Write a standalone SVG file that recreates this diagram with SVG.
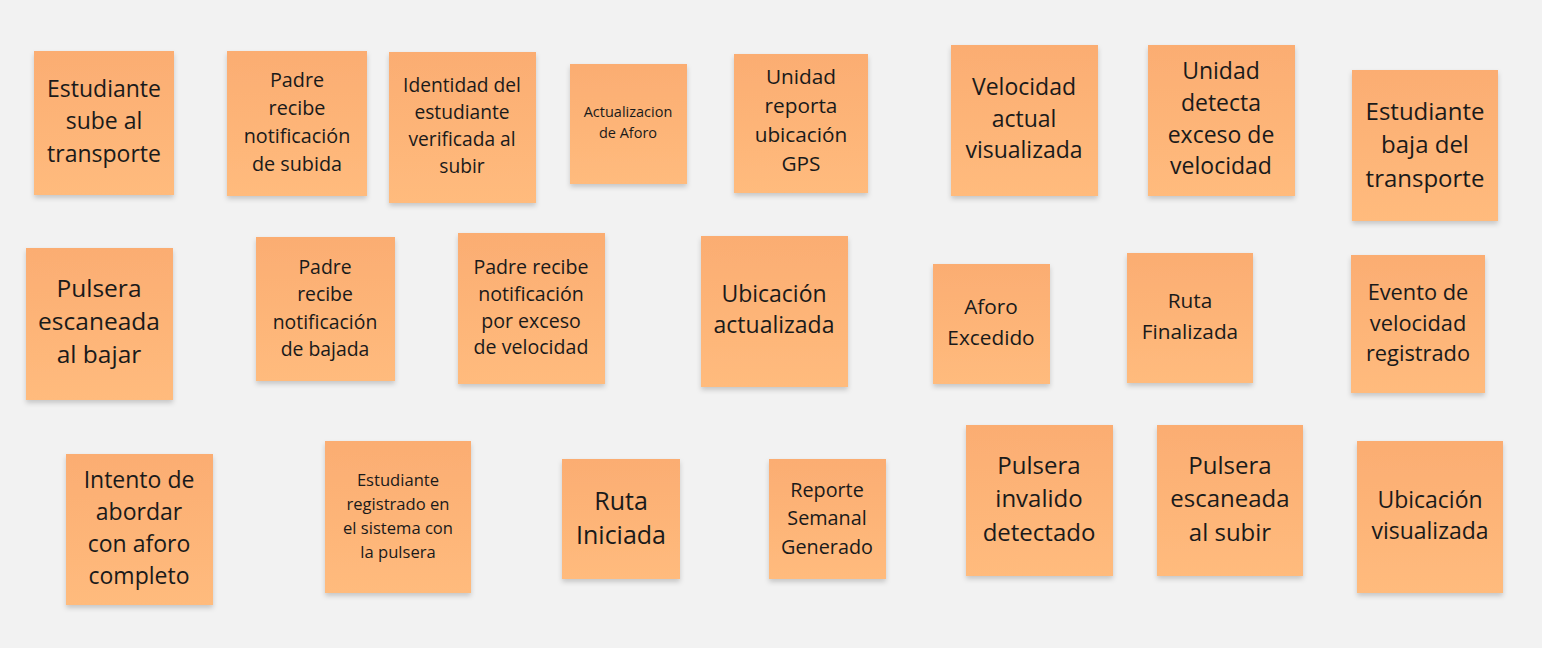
<svg xmlns="http://www.w3.org/2000/svg" width="1542" height="648" viewBox="0 0 1542 648">
<defs>
<linearGradient id="g" x1="0" y1="0" x2="0" y2="1">
<stop offset="0" stop-color="#fbad72"/>
<stop offset="1" stop-color="#ffbb7d"/>
</linearGradient>
<filter id="sh" x="-10%" y="-10%" width="120%" height="125%">
<feDropShadow dx="0" dy="3" stdDeviation="2.5" flood-color="#000" flood-opacity="0.18"/>
</filter>
<style>
.n{fill:url(#g);filter:url(#sh)}
.t{font-family:"Open Sans","Noto Sans",sans-serif;text-anchor:middle;fill:#1a1a1a}
</style>
</defs>
<rect width="1542" height="648" fill="#f2f2f2"/>
<g id="connectors"/>
<g id="n1"><rect class="n" x="34" y="51" width="140" height="144"/><text class="t" font-size="23"><tspan x="104" y="97">Estudiante</tspan><tspan x="104" y="129">sube al</tspan><tspan x="104" y="162">transporte</tspan></text></g>
<g id="n2"><rect class="n" x="227" y="51" width="140" height="145"/><text class="t" font-size="19.8"><tspan x="297" y="87">Padre</tspan><tspan x="297" y="115">recibe</tspan><tspan x="297" y="143">notificación</tspan><tspan x="297" y="171">de subida</tspan></text></g>
<g id="n3"><rect class="n" x="389" y="52" width="147" height="151"/><text class="t" font-size="19.2"><tspan x="462" y="92">Identidad del</tspan><tspan x="462" y="119">estudiante</tspan><tspan x="462" y="146">verificada al</tspan><tspan x="462" y="173">subir</tspan></text></g>
<g id="n4"><rect class="n" x="570" y="64" width="117" height="120"/><text class="t" font-size="14.5"><tspan x="628" y="117">Actualizacion</tspan><tspan x="628" y="138">de Aforo</tspan></text></g>
<g id="n5"><rect class="n" x="734" y="54" width="134" height="139"/><text class="t" font-size="20.8"><tspan x="801" y="84">Unidad</tspan><tspan x="801" y="113">reporta</tspan><tspan x="801" y="142">ubicación</tspan><tspan x="801" y="171">GPS</tspan></text></g>
<g id="n6"><rect class="n" x="951" y="45" width="147" height="151"/><text class="t" font-size="23"><tspan x="1024" y="95">Velocidad</tspan><tspan x="1024" y="127">actual</tspan><tspan x="1024" y="158">visualizada</tspan></text></g>
<g id="n7"><rect class="n" x="1148" y="45" width="147" height="151"/><text class="t" font-size="23"><tspan x="1221" y="79">Unidad</tspan><tspan x="1221" y="111">detecta</tspan><tspan x="1221" y="143">exceso de</tspan><tspan x="1221" y="174">velocidad</tspan></text></g>
<g id="n8"><rect class="n" x="1352" y="70" width="146" height="151"/><text class="t" font-size="24"><tspan x="1425" y="120">Estudiante</tspan><tspan x="1425" y="153">baja del</tspan><tspan x="1425" y="187">transporte</tspan></text></g>
<g id="n9"><rect class="n" x="26" y="248" width="147" height="152"/><text class="t" font-size="24.5"><tspan x="99" y="297">Pulsera</tspan><tspan x="99" y="330">escaneada</tspan><tspan x="99" y="363">al bajar</tspan></text></g>
<g id="n10"><rect class="n" x="256" y="237" width="139" height="144"/><text class="t" font-size="19.4"><tspan x="325" y="274">Padre</tspan><tspan x="325" y="301">recibe</tspan><tspan x="325" y="329">notificación</tspan><tspan x="325" y="356">de bajada</tspan></text></g>
<g id="n11"><rect class="n" x="458" y="233" width="147" height="151"/><text class="t" font-size="19.6"><tspan x="531" y="274">Padre recibe</tspan><tspan x="531" y="301">notificación</tspan><tspan x="531" y="328">por exceso</tspan><tspan x="531" y="354">de velocidad</tspan></text></g>
<g id="n12"><rect class="n" x="701" y="236" width="147" height="151"/><text class="t" font-size="23"><tspan x="774" y="302">Ubicación</tspan><tspan x="774" y="333">actualizada</tspan></text></g>
<g id="n13"><rect class="n" x="933" y="264" width="117" height="120"/><text class="t" font-size="20.8"><tspan x="991" y="314">Aforo</tspan><tspan x="991" y="345">Excedido</tspan></text></g>
<g id="n14"><rect class="n" x="1127" y="253" width="126" height="130"/><text class="t" font-size="20.8"><tspan x="1190" y="308">Ruta</tspan><tspan x="1190" y="339">Finalizada</tspan></text></g>
<g id="n15"><rect class="n" x="1351" y="255" width="134" height="138"/><text class="t" font-size="21.8"><tspan x="1418" y="300">Evento de</tspan><tspan x="1418" y="331">velocidad</tspan><tspan x="1418" y="361">registrado</tspan></text></g>
<g id="n16"><rect class="n" x="66" y="454" width="147" height="151"/><text class="t" font-size="23"><tspan x="139" y="488">Intento de</tspan><tspan x="139" y="520">abordar</tspan><tspan x="139" y="552">con aforo</tspan><tspan x="139" y="584">completo</tspan></text></g>
<g id="n17"><rect class="n" x="325" y="441" width="146" height="152"/><text class="t" font-size="16.6"><tspan x="398" y="486">Estudiante</tspan><tspan x="398" y="510">registrado en</tspan><tspan x="398" y="534">el sistema con</tspan><tspan x="398" y="558">la pulsera</tspan></text></g>
<g id="n18"><rect class="n" x="562" y="459" width="118" height="120"/><text class="t" font-size="25"><tspan x="621" y="510">Ruta</tspan><tspan x="621" y="544">Iniciada</tspan></text></g>
<g id="n19"><rect class="n" x="769" y="459" width="117" height="120"/><text class="t" font-size="19.8"><tspan x="827" y="497">Reporte</tspan><tspan x="827" y="525">Semanal</tspan><tspan x="827" y="554">Generado</tspan></text></g>
<g id="n20"><rect class="n" x="966" y="425" width="147" height="151"/><text class="t" font-size="24"><tspan x="1039" y="474">Pulsera</tspan><tspan x="1039" y="507">invalido</tspan><tspan x="1039" y="541">detectado</tspan></text></g>
<g id="n21"><rect class="n" x="1157" y="425" width="146" height="151"/><text class="t" font-size="24"><tspan x="1230" y="474">Pulsera</tspan><tspan x="1230" y="507">escaneada</tspan><tspan x="1230" y="541">al subir</tspan></text></g>
<g id="n22"><rect class="n" x="1357" y="441" width="146" height="152"/><text class="t" font-size="23"><tspan x="1430" y="508">Ubicación</tspan><tspan x="1430" y="539">visualizada</tspan></text></g>
</svg>
